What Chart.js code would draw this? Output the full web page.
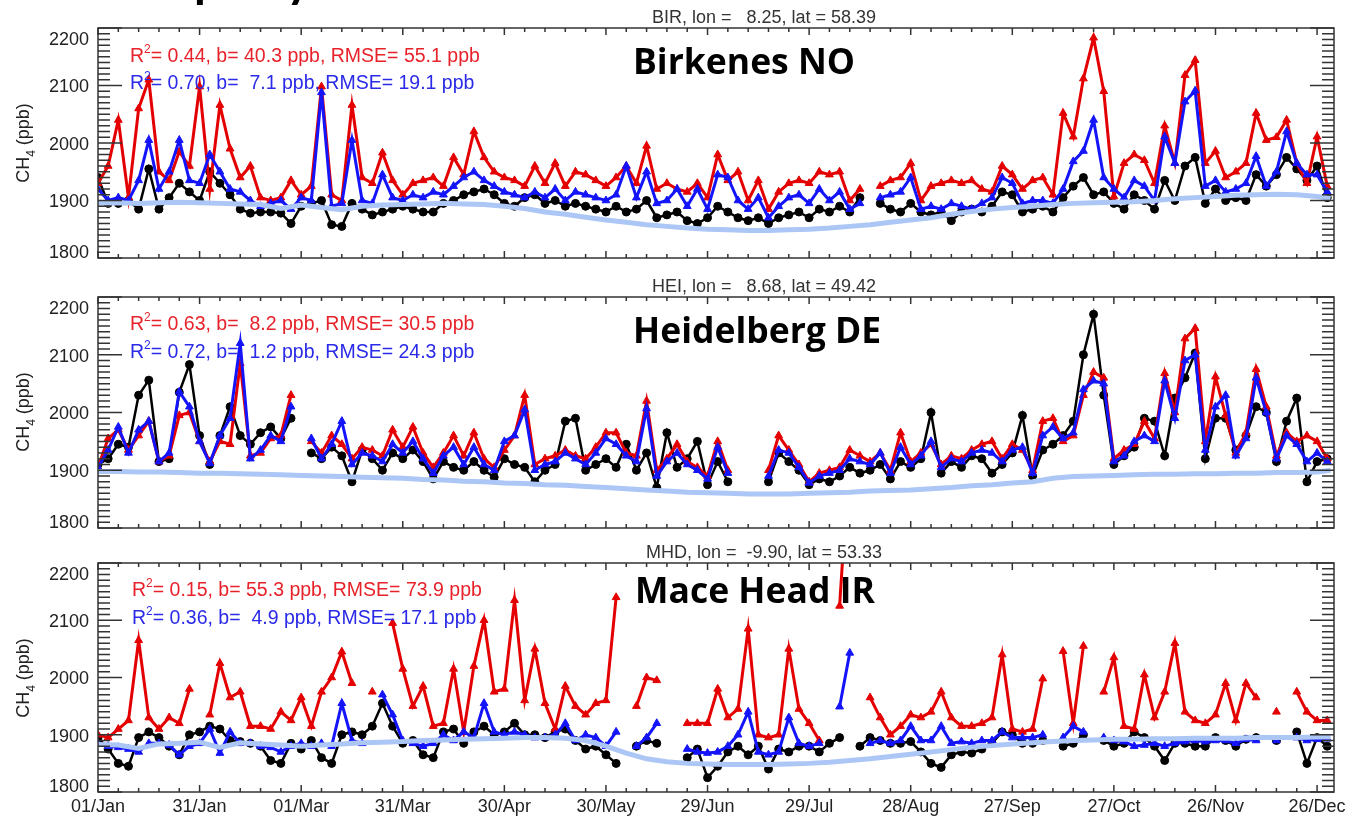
<!DOCTYPE html>
<html>
<head>
<meta charset="utf-8">
<script src="https://cdn.jsdelivr.net/npm/chart.js@4.4.0/dist/chart.umd.min.js"></script>
<style>
body { margin: 0; background: #fff; width: 1346px; height: 829px; position: relative; overflow: hidden; font-family: 'Liberation Sans', Arial, sans-serif; }
canvas { position: absolute; left: 0; top: 0; }
.t { position: absolute; white-space: pre; line-height: 1; }
.site { font-size: 18px; color: #333; transform: translateX(-50%); }
.big { font-family: 'Open Sans', sans-serif; font-weight: bold; font-size: 35.5px; color: #000; }
.st { font-size: 19.5px; }
.st sup { font-size: 12px; position: relative; top: -3px; vertical-align: top; }
.red { color: #e8222a; }
.blue { color: #2a2ae8; }
.yl { font-size: 18px; color: #222; transform: translate(-50%, -50%) rotate(-90deg); }
.yl sub { font-size: 12px; position: relative; top: 1px; }
.cut { font-family: Lato, sans-serif; font-weight: bold; font-size: 48px; color: #000; }
</style>
</head>
<body>
<canvas id="p1" width="1346" height="829"></canvas>
<canvas id="p2" width="1346" height="829"></canvas>
<canvas id="p3" width="1346" height="829"></canvas>

<div class="t cut" style="left:194px;top:-45px">p</div>
<div class="t cut" style="left:286px;top:-45px">y</div>

<div class="t site" style="left:764px;top:8px">BIR, lon =   8.25, lat = 58.39</div>
<div class="t site" style="left:764px;top:277px">HEI, lon =   8.68, lat = 49.42</div>
<div class="t site" style="left:764px;top:543px">MHD, lon =  -9.90, lat = 53.33</div>

<div class="t big" style="left:633px;top:43px">Birkenes NO</div>
<div class="t big" style="left:633px;top:312px">Heidelberg DE</div>
<div class="t big" style="left:635px;top:572px">Mace Head IR</div>

<div class="t st red" style="left:130px;top:46px">R<sup>2</sup>= 0.44, b= 40.3 ppb, RMSE= 55.1 ppb</div>
<div class="t st blue" style="left:130px;top:73px">R<sup>2</sup>= 0.70, b=  7.1 ppb, RMSE= 19.1 ppb</div>
<div class="t st red" style="left:130px;top:314px">R<sup>2</sup>= 0.63, b=  8.2 ppb, RMSE= 30.5 ppb</div>
<div class="t st blue" style="left:130px;top:342px">R<sup>2</sup>= 0.72, b=  1.2 ppb, RMSE= 24.3 ppb</div>
<div class="t st red" style="left:132px;top:580px">R<sup>2</sup>= 0.15, b= 55.3 ppb, RMSE= 73.9 ppb</div>
<div class="t st blue" style="left:132px;top:608px">R<sup>2</sup>= 0.36, b=  4.9 ppb, RMSE= 17.1 ppb</div>

<div class="t yl" style="left:25px;top:143px">CH<sub>4</sub> (ppb)</div>
<div class="t yl" style="left:25px;top:412px">CH<sub>4</sub> (ppb)</div>
<div class="t yl" style="left:25px;top:678px">CH<sub>4</sub> (ppb)</div>

<script>
// day of year for the model / obs series (every 3rd day)
const days = [0,3,6,9,12,15,18,21,24,27,30,33,36,39,42,45,48,51,54,57,
  60,63,66,69,72,75,78,81,84,87,90,93,96,99,102,105,108,111,114,117,
  120,123,126,129,132,135,138,141,144,147,150,153,156,159,162,165,168,171,174,177,
  180,183,186,189,192,195,198,201,204,207,210,213,216,219,222,225,228,231,234,237,
  240,243,246,249,252,255,258,261,264,267,270,273,276,279,282,285,288,291,294,297,
  300,303,306,309,312,315,318,321,324,327,330,333,336,339,342,345,348,351,354,357,
  360,363];
// day of year for the background curves
const bgDays = [0,6,12,18,24,30,36,42,48,54,60,66,72,78,84,90,96,102,108,114,
  120,126,132,138,144,150,156,162,168,174,180,186,192,198,204,210,216,222,228,234,
  240,246,252,258,264,270,276,282,288,294,300,306,312,318,324,330,336,342,348,354,
  360,364];

const xTickDays = [0,30,60,90,120,150,180,210,240,270,300,330,360];
const xTickLabels = ['01/Jan','31/Jan','01/Mar','31/Mar','30/Apr','30/May','29/Jun','29/Jul','28/Aug','27/Sep','27/Oct','26/Nov','26/Dec'];
const yTicks = [1800,1900,2000,2100,2200];

// BIR
const obsBIR = [1940,1895,1895,1900,1885,1955,1885,1905,1930,1915,
  1900,1950,1930,1910,1885,1878,1880,1880,1878,1860,
  1890,1895,1900,1858,1855,1895,1885,1875,1880,1885,
  1890,1885,1880,1880,1895,1900,1910,1915,1920,1910,
  1895,1890,1905,1910,1895,1900,1890,1895,1890,1885,
  1880,1890,1880,1885,1900,1870,1875,1880,1865,1860,
  1870,1890,1880,1870,1865,1870,1860,1870,1875,1880,
  1870,1885,1880,1890,1880,1905,null,1895,1885,1880,
  1895,1880,1875,1880,1865,1880,1885,1880,1890,1915,
  1910,1880,1885,1890,1880,1905,1925,1940,1910,1915,
  1895,1885,1910,1900,1885,1935,1900,1960,1975,1895,
  1920,1900,1905,1900,1945,1925,1945,1975,1955,1935,
  1960,1905];
const redBIR = [1930,1960,2040,1905,2060,2110,1950,1935,1985,1960,
  2098,1920,2066,1990,1940,1960,1905,1900,1905,1935,
  1910,1925,2098,1910,1900,2066,1940,1930,1983,1935,
  1910,1930,1935,1940,1925,1975,1945,2020,1975,1950,
  1940,1935,1925,1960,1930,1965,1925,1950,1945,1935,
  1925,1940,1960,1930,1995,1920,1930,1920,1915,1930,
  1905,1980,1935,1950,1900,1935,1885,1915,1930,1935,
  1930,1950,1945,1950,1900,1920,null,1925,1935,1940,
  1965,1900,1925,1930,1935,1930,1935,1920,1915,1960,
  1945,1920,1935,1940,1910,2052,2011,2112,2183,2090,
  1907,1965,1980,1970,1930,2030,1965,2118,2144,1965,
  1986,1940,1950,1965,2052,2005,2010,2040,1965,1930,
  2011,1925];
const blueBIR = [1920,1900,1905,1900,1935,2005,1920,1950,2005,1935,
  1930,1980,1950,1920,1915,1900,1890,1895,1900,1885,
  1905,1900,2088,1890,1895,2005,1900,1895,1945,1905,
  1900,1910,1905,1915,1910,1925,1940,1950,1935,1925,
  1915,1910,1905,1915,1905,1920,1900,1915,1910,1905,
  1900,1910,1960,1905,1950,1895,1900,1920,1890,1920,
  1885,1945,1940,1900,1885,1905,1870,1890,1905,1910,
  1895,1920,1900,1915,1885,1895,null,1905,1910,1915,
  1940,1885,1890,1885,1895,1890,1885,1895,1905,1940,
  1930,1895,1900,1900,1895,1920,1968,1986,2040,1940,
  1920,1905,1935,1925,1900,2011,1965,2072,2091,1925,
  1935,1915,1920,1930,1977,1925,1950,2020,1965,1945,
  1945,1915];
const bgBIR = [1895,1896,1895,1896,1897,1896,1895,1894,1893,1886,
  1892,1888,1884,1890,1892,1893,1894,1895,1894,1893,
  1890,1886,1880,1876,1871,1866,1862,1858,1855,1852,
  1850,1849,1848,1848,1849,1850,1852,1855,1858,1862,
  1866,1870,1876,1881,1885,1888,1890,1893,1895,1896,
  1897,1898,1900,1903,1905,1907,1909,1910,1911,1910,
  1907,1904];

// HEI
const obsHEI = [1910,1920,1945,1940,2030,2056,1915,1920,2035,2083,
  1960,1910,1960,2010,1960,1945,1965,1975,1955,1990,
  null,1930,1920,1940,1925,1880,1935,1920,1900,1930,
  1920,1935,1915,1885,1915,1905,1900,1915,1900,1888,
  1920,1910,1905,1880,1900,1910,1985,1990,1900,1910,
  1920,1905,1945,1900,1930,1870,1965,1905,1920,1950,
  1875,1915,1880,null,null,null,1880,1930,1915,1900,
  1875,1885,1880,1890,1905,1895,1900,1910,1885,1915,
  1905,1920,2000,1895,1915,1905,1925,1920,1895,1910,
  1930,1995,1890,1935,1945,1960,1985,2100,2170,2030,
  1910,1925,1940,1990,1985,1925,2025,2060,2103,1920,
  1990,1990,1935,1960,2010,2000,1915,1985,2025,1880,
  1915,1920];
const redHEI = [1905,1955,1970,1935,1960,1985,1915,1925,1995,2000,
  1950,1915,1950,1945,2085,1925,1930,1955,1960,2030,
  null,1950,1930,1960,1945,1920,1940,1935,1925,1970,
  1940,1975,1930,1905,1930,1960,1925,1965,1920,1905,
  1935,1960,2030,1910,1920,1925,1935,1925,1920,1940,
  1965,1965,1930,1925,2020,1900,1920,1945,1915,1905,
  1890,1950,1900,null,null,null,1900,1960,1935,1910,
  1880,1895,1900,1905,1935,1925,1915,1930,1900,1965,
  1915,1930,1945,1910,1925,1920,1935,1945,1950,1920,
  1945,1935,1900,1985,1990,1950,1960,2030,2070,2060,
  1920,1935,1945,1985,1955,2068,2000,2128,2146,1950,
  2062,1995,1930,1965,2075,2010,1925,1965,1950,1960,
  1950,1920];
const blueHEI = [1905,1935,1975,1930,1970,1985,1915,1930,2036,2010,
  1950,1912,1960,1990,2120,1920,1935,1960,1950,2010,
  null,1955,1920,1945,1985,1910,1930,1925,1915,1945,
  1930,1950,1920,1895,1925,1940,1910,1940,1910,1900,
  1950,1960,2005,1900,1910,1915,1930,1920,1910,1930,
  1955,1945,1925,1915,2007,1890,1915,1930,1910,1900,
  1885,1940,1895,null,null,null,1890,1935,1930,1905,
  1878,1890,1895,1900,1920,1915,1910,1930,1895,1940,
  1910,1925,1950,1905,1920,1915,1930,1935,1930,1915,
  1935,1940,1895,1960,1975,1955,1965,2040,2055,2050,
  1915,1925,1950,1960,1950,2055,1990,2090,2100,1935,
  2010,2030,1925,1955,2060,2000,1920,1960,1945,1915,
  1930,1915];
const bgHEI = [1898,1898,1897,1897,1896,1895,1895,1894,1893,1892,
  1891,1890,1889,1888,1887,1886,1884,1883,1881,1880,
  1878,1877,1875,1874,1872,1870,1868,1866,1864,1862,
  1861,1860,1859,1859,1859,1860,1861,1862,1864,1865,
  1866,1868,1870,1873,1875,1878,1880,1886,1889,1890,
  1891,1892,1893,1893,1894,1894,1895,1895,1896,1896,
  1897,1900];

// MHD
const obsMHD = [1895,1875,1850,1845,1895,1905,1895,1880,1865,1900,
  1905,1915,1910,1890,1888,1885,1880,1855,1850,1885,
  1875,1890,1860,1850,1900,1905,1900,1915,1955,1915,
  1885,1890,1865,1860,1905,1910,1885,1905,1915,1900,
  1905,1920,1900,1900,1895,1905,1910,1890,1875,1880,
  1865,1850,null,1880,1890,1885,null,null,1860,1875,
  1825,1845,1870,1880,1865,1880,1840,1875,1870,1880,
  1880,1870,1885,1895,null,1880,1895,1890,1885,1885,
  1888,1870,1850,1843,1865,1870,1868,1875,1885,1905,
  1900,1885,1885,1890,null,1880,1885,1900,null,1890,
  1880,1885,1905,1895,1880,1855,1885,1885,1880,1880,
  1895,1890,1880,1892,1895,null,1890,null,1905,1850,
  1895,1880];
const redMHD = [1900,1895,1910,1925,2065,1930,1910,1930,1920,1980,
  null,1935,2025,1965,1975,1915,1915,1910,1940,1925,
  1965,1915,1975,2000,2045,1990,null,1975,null,2095,
  2015,1950,1985,1915,1920,2015,1905,2020,2100,1975,
  1980,2135,1960,2050,1955,1910,1985,1950,1935,1955,
  1960,2140,null,1950,2000,1995,null,null,1920,1920,
  1920,1980,1930,1945,2085,1900,1895,1900,2050,1945,
  1920,1890,null,2125,2400,null,1965,1930,1900,1915,
  1935,1930,1940,1975,1930,1915,1915,1920,1930,2040,
  1910,1905,1910,1998,null,2046,1920,2055,null,1975,
  2035,1915,1910,2005,1930,1975,2060,1940,1925,1920,
  1935,1990,1925,1990,1965,null,1940,null,1975,1940,
  1925,1925];
const blueMHD = [1885,1880,1878,1875,1870,1885,1885,1882,1865,1880,
  1885,1910,1868,1905,1885,1885,1880,1878,1870,1880,
  1885,1880,1885,1880,1955,1890,1885,null,1970,1935,
  1890,1885,1880,1885,1900,1890,1905,1895,1955,1905,
  1900,1905,1900,1895,1895,1900,1920,1890,1900,1895,
  1880,1905,null,1880,1895,1920,null,null,1875,1870,
  1868,1870,1880,1900,1940,1870,1865,1870,1930,1885,
  1880,1885,null,1949,2043,null,1885,1890,1885,1890,
  1915,1890,1890,1915,1885,1888,1885,1890,1890,1905,
  1895,1895,1895,1900,null,1895,1915,1905,null,1895,
  1890,1888,1880,1882,1885,1880,1885,1888,1890,1888,
  1890,1890,1885,1892,1890,null,1890,null,1895,1890,
  1892,1893];
const bgMHD = [1883,1882,1876,1884,1885,1887,1878,1886,1884,1882,
  1880,1882,1884,1886,1887,1888,1890,1891,1892,1893,
  1894,1895,1895,1894,1890,1880,1868,1858,1853,1850,
  1849,1848,1848,1848,1849,1850,1852,1855,1858,1862,
  1866,1870,1874,1878,1881,1884,1886,1888,1890,1891,
  1892,1892,1893,1893,1894,1894,1894,1895,1895,1895,
  1896,1896];

const RED = 'rgb(228,0,0)';
const BLUE = 'rgb(20,20,250)';
const LIGHT = 'rgb(172,198,246)';

function pts(xs, ys) {
  return xs.map((d, i) => ({ x: d, y: ys[i] }));
}

// IDL style box with inward ticks
const frame = {
  id: 'frame',
  afterDraw(chart, args, opts) {
    const { ctx, chartArea: a, scales: { x, y } } = chart;
    ctx.save();
    ctx.strokeStyle = '#333';
    ctx.lineWidth = 1.5;
    ctx.beginPath();
    for (let v = 1800; v <= 2200; v += 10) {
      const py = y.getPixelForValue(v);
      const len = v % 100 === 0 ? 24 : 12;
      ctx.moveTo(a.left, py); ctx.lineTo(a.left + len, py);
      ctx.moveTo(a.right, py); ctx.lineTo(a.right - len, py);
    }
    for (let d = 0; d <= 365; d += 6) {
      const px = x.getPixelForValue(d);
      const len = d % 30 === 0 ? 7 : 4;
      ctx.moveTo(px, a.top); ctx.lineTo(px, a.top + len);
      ctx.moveTo(px, a.bottom); ctx.lineTo(px, a.bottom - len);
    }
    ctx.stroke();
    ctx.strokeRect(a.left, a.top, a.right - a.left, a.bottom - a.top);

    ctx.fillStyle = '#222';
    ctx.font = "18px 'Liberation Sans', Arial";
    ctx.textAlign = 'right';
    ctx.textBaseline = 'middle';
    yTicks.forEach(v => {
      const dy = v === 2200 ? 12 : (v === 1800 ? -5 : 2);
      ctx.fillText(String(v), a.left - 9, y.getPixelForValue(v) + dy);
    });
    if (opts.showX) {
      ctx.textAlign = 'center';
      xTickDays.forEach((d, i) => {
        ctx.fillText(xTickLabels[i], x.getPixelForValue(d), a.bottom + 15);
      });
    }
    ctx.restore();
  }
};

function makePanel(id, top, bottom, obs, red, blue, bg, showX) {
  return new Chart(document.getElementById(id), {
    type: 'line',
    data: {
      datasets: [
        { data: pts(bgDays, bg), borderColor: LIGHT, borderWidth: 5, pointRadius: 0, clip: 0 },
        { data: pts(days, blue), borderColor: BLUE, backgroundColor: BLUE, borderWidth: 3,
          pointStyle: 'triangle', pointRadius: 4.5, pointBorderWidth: 1, clip: 0 },
        { data: pts(days, red), borderColor: RED, backgroundColor: RED, borderWidth: 3,
          pointStyle: 'triangle', pointRadius: 4.5, pointBorderWidth: 1, clip: 0 },
        { data: pts(days, obs), borderColor: '#000', backgroundColor: '#000', borderWidth: 2.5,
          pointStyle: 'circle', pointRadius: 4, pointBorderWidth: 1, clip: 0 }
      ]
    },
    options: {
      responsive: false,
      animation: false,
      events: [],
      spanGaps: false,
      layout: { padding: { left: 98, right: 12, top: top, bottom: 829 - bottom } },
      elements: { line: { tension: 0 } },
      scales: {
        x: { type: 'linear', min: 0, max: 365, display: false },
        y: { type: 'linear', min: 1800, max: 2200, display: false }
      },
      plugins: { legend: { display: false }, tooltip: { enabled: false }, frame: { showX: showX } }
    },
    plugins: [frame]
  });
}

makePanel('p1', 28, 258, obsBIR, redBIR, blueBIR, bgBIR, false);
makePanel('p2', 297, 528, obsHEI, redHEI, blueHEI, bgHEI, false);
makePanel('p3', 563, 792, obsMHD, redMHD, blueMHD, bgMHD, true);
</script>
</body>
</html>
